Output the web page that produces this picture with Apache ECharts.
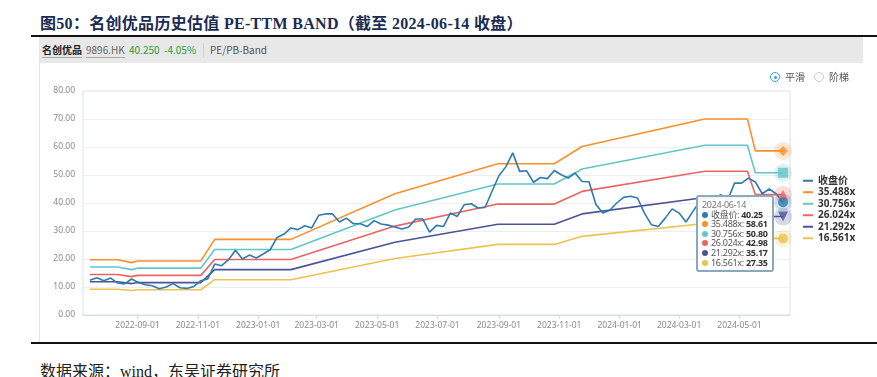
<!DOCTYPE html>
<html>
<head>
<meta charset="utf-8">
<script src="https://cdn.jsdelivr.net/npm/echarts@6/dist/echarts.min.js"></script>
<style>
body { margin: 0; width: 877px; height: 377px; position: relative; background: #fff; overflow: hidden; font-family: "Noto Sans CJK SC", "Noto Sans", sans-serif; }
.title { position: absolute; left: 40px; top: 10px; font: bold 16px "Liberation Serif", "Noto Sans CJK SC", serif; letter-spacing: 0.3px; color: #1a2c52; white-space: nowrap; }
.rule { position: absolute; left: 31px; right: 0; height: 2px; background: #111; }
.bar { position: absolute; left: 39px; top: 37px; width: 824px; height: 26px; background: #e8e8e8; font-size: 10px; line-height: 26px; color: #555; white-space: nowrap; }
.bar span { position: absolute; top: 0; }
.u { border-bottom: 1px solid #aaa; line-height: 14px; top: 6px !important; }
.sep { width: 1px; height: 14px; background: #cfcfcf; top: 6px !important; }
.side { position: absolute; left: 39px; top: 63px; width: 1px; height: 280px; background: #e2e2e2; }
.radio { position: absolute; top: 71px; font-size: 10px; color: #555; line-height: 12px; z-index: 5; }
.radio i { display: inline-block; width: 8px; height: 8px; border: 1px solid #ccc; border-radius: 50%; vertical-align: -1px; margin-right: 5px; position: relative; }
.radio i.on { border-color: #33a3d6; }
.radio i.on:after { content: ""; position: absolute; left: 2.5px; top: 2.5px; width: 3px; height: 3px; border-radius: 50%; background: #33a3d6; }
.source { position: absolute; left: 40px; top: 358px; font: 16px "Liberation Serif", "Noto Sans CJK SC", serif; color: #222; white-space: nowrap; }
#chart { position: absolute; left: 0; top: 63px; width: 877px; height: 280px; }
</style>
</head>
<body>
<div class="title">图50：名创优品历史估值 PE-TTM BAND（截至 2024-06-14 收盘）</div>
<div class="rule" style="top:35px"></div>
<div class="bar">
  <span class="u" style="left:3px;font-weight:bold;color:#222">名创优品</span>
  <span class="u" style="left:47px;color:#666">9896.HK</span>
  <span style="left:90px;color:#2f9a35">40.250</span>
  <span style="left:125px;color:#2f9a35">-4.05%</span>
  <span class="sep" style="left:164px"></span>
  <span style="left:171px;color:#555">PE/PB-Band</span>
</div>
<div class="side"></div>
<div id="chart"></div>
<div class="radio" style="left:770px"><i class="on"></i>平滑</div>
<div class="radio" style="left:814px"><i></i>阶梯</div>
<div class="rule" style="top:342px"></div>
<div class="source">数据来源：wind，东吴证券研究所</div>

<script>
var container = document.getElementById('chart')
var chart = echarts.init(container)

// x axis range (daily categories) and the labelled ticks
var axisStart = '2022-07-08'
var axisEnd = '2024-06-21'
var tickLabels = ['2022-09-01', '2022-11-01', '2023-01-01', '2023-03-01', '2023-05-01', '2023-07-01',
    '2023-09-01', '2023-11-01', '2024-01-01', '2024-03-01', '2024-05-01']

// weekly close, first Friday 2022-07-15, last 2024-06-14
var priceStart = '2022-07-15'
var closePrice = [12.4, 13.3, 12.25, 13.2, 11.4, 11.1, 12.85, 11.65, 10.8, 10.45,
    9.4, 10.0, 11.2, 9.75, 9.5, 10.2, 12.25, 12.9, 18.2, 17.6,
    19.75, 23.1, 20.0, 21.4, 20.35, 21.8, 23.3, 27.7, 28.9, 31.1,
    30.5, 31.9, 31.1, 35.6, 36.1, 36.1, 33.2, 34.6, 32.6, 32.6,
    31.6, 33.7, 32.5, 32.1, 31.4, 30.7, 31.4, 34.3, 34.3, 29.6,
    32.0, 31.6, 36.4, 35.2, 39.4, 39.75, 38.2, 38.4, 44.1, 49.75,
    52.9, 57.9, 51.3, 51.5, 47.4, 49.1, 48.7, 51.6, 50.1, 48.9,
    50.7, 47.7, 47.6, 39.5, 36.4, 37.4, 40.0, 42.0, 42.4, 41.8,
    36.4, 32.25, 31.6, 34.6, 37.9, 36.4, 33.2, 37.0, 40.6, 41.8,
    41.4, 43.0, 41.0, 47.1, 47.1, 48.9, 47.5, 43.3, 45.0, 43.3,
    40.25]

// TTM EPS knots behind the bands (smoothed mode)
var epsDates = ['2022-07-15', '2022-08-12', '2022-08-26', '2022-09-01', '2022-11-04', '2022-11-18',
    '2023-02-03', '2023-05-19', '2023-08-31', '2023-10-27', '2023-11-24', '2024-03-27',
    '2024-05-09', '2024-05-17', '2024-06-14']
var epsTTM = [0.5565, 0.5565, 0.527, 0.544, 0.544, 0.761,
    0.761, 1.220, 1.522, 1.522, 1.696, 1.972,
    1.972, 1.6516, 1.6516]

var multiples = [35.488, 30.756, 26.024, 21.292, 16.561]
var bandNames = ['35.488x', '30.756x', '26.024x', '21.292x', '16.561x']
var bandColors = ['#f7902d', '#62c6c6', '#ea6466', '#4b5394', '#ebc250']
var bandSymbols = ['diamond', 'rect', 'triangle', 'triangle', 'circle']
var bandRotate = [0, 0, 0, 180, 0]
var closeColor = '#2f7ab0'

function dayList(from, to) {
    var out = []
    var t = Date.parse(from + 'T00:00:00Z')
    var end = Date.parse(to + 'T00:00:00Z')
    for (; t <= end; t += 864e5) out.push(new Date(t).toISOString().slice(0, 10))
    return out
}

var days = dayList(axisStart, axisEnd)
var priceDates = []
var t0 = Date.parse(priceStart + 'T00:00:00Z')
for (var i = 0; i < closePrice.length; i++) {
    priceDates.push(new Date(t0 + i * 7 * 864e5).toISOString().slice(0, 10))
}

var priceData = closePrice.map(function (v, i) { return [priceDates[i], v] })
var bands = multiples.map(function (m) {
    return epsTTM.map(function (e, i) { return [epsDates[i], +(e * m).toFixed(2)] })
})

var lastDate = priceDates[priceDates.length - 1]
var lastClose = closePrice[closePrice.length - 1]

function isTick(index, value) {
    return tickLabels.indexOf(value) >= 0
}

var series = []
bands.forEach(function (b, k) {
    series.push({
        name: bandNames[k], type: 'line', data: b, symbol: 'none', z: 2,
        lineStyle: { width: 1.6, color: bandColors[k] }, itemStyle: { color: bandColors[k] }
    })
})
series.push({
    name: '收盘价', type: 'line', data: priceData, symbol: 'none', z: 3,
    lineStyle: { width: 1.6, color: closeColor }, itemStyle: { color: closeColor }
})

// end-point markers with halo (hover state in the original)
var markColors = bandColors.concat([closeColor])
var markSymbols = bandSymbols.concat(['circle'])
var markRotate = bandRotate.concat([0])
var markValues = bands.map(function (b) { return b[b.length - 1][1] }).concat([lastClose])
markValues.forEach(function (v, k) {
    series.push({
        type: 'scatter', data: [[lastDate, v]], symbol: 'circle', symbolSize: 18, z: 4, silent: true,
        itemStyle: { color: markColors[k], opacity: 0.22 }
    })
    series.push({
        type: 'scatter', data: [[lastDate, v]], symbol: markSymbols[k], symbolSize: 10, z: 5,
        symbolRotate: markRotate[k], itemStyle: { color: markColors[k] }
    })
})
var tipSeries = series.length - 1

var option = {
    animation: false,
    textStyle: { fontFamily: 'Noto Sans, Noto Sans CJK SC' },
    grid: { left: 83, right: 87, top: 28, bottom: 28, show: true, borderColor: '#dbe1ea', borderWidth: 1 },
    legend: {
        data: ['收盘价'].concat(bandNames), orient: 'vertical', left: 803, top: 112, padding: 0,
        icon: 'rect', itemWidth: 10, itemHeight: 2, itemGap: 0, selectedMode: false,
        textStyle: { fontSize: 10, color: '#333', fontWeight: 'bold', lineHeight: 11.5, padding: [0, 0, 0, 0] }
    },
    tooltip: {
        trigger: 'item', triggerOn: 'none', alwaysShowContent: true, transitionDuration: 0,
        position: [696, 132],
        backgroundColor: 'rgba(255,255,255,0.92)', borderColor: '#8aa9bc', borderWidth: 2, borderRadius: 3,
        padding: [3, 4, 3, 4],
        extraCssText: 'box-shadow:none;letter-spacing:-0.3px;',
        textStyle: { fontSize: 9, color: '#555' },
        formatter: function () {
            var dot = function (c) {
                return '<span style="display:inline-block;width:6px;height:6px;border-radius:3px;margin-right:3px;background:' + c + '"></span>'
            }
            var row = '<div style="line-height:9.6px;white-space:nowrap">'
            var rows = [row + '<span style="color:#777">' + lastDate + '</span></div>']
            rows.push(row + dot(closeColor) + '收盘价: <b style="color:#333">' + lastClose.toFixed(2) + '</b></div>')
            bandNames.forEach(function (n, k) {
                rows.push(row + dot(bandColors[k]) + n + ': <b style="color:#333">' + markValues[k].toFixed(2) + '</b></div>')
            })
            return rows.join('')
        }
    },
    xAxis: {
        type: 'category', data: days, boundaryGap: false,
        axisLine: { show: true, lineStyle: { color: '#d6dce6' } },
        axisTick: { show: true, length: 4, interval: isTick, lineStyle: { color: '#d6dce6' } },
        axisLabel: { interval: isTick, color: '#8a8a8a', fontSize: 8.5, margin: 6 },
        splitLine: { show: false }
    },
    yAxis: {
        type: 'value', min: 0, max: 80, interval: 10,
        axisLine: { show: false }, axisTick: { show: false },
        axisLabel: { color: '#8a8a8a', fontSize: 8.5, margin: 8, formatter: function (v) { return v.toFixed(2) } },
        splitLine: { lineStyle: { color: '#eceef2' } }
    },
    series: series
}

chart.setOption(option)
chart.dispatchAction({ type: 'showTip', seriesIndex: tipSeries, dataIndex: 0 })
</script>
</body>
</html>
